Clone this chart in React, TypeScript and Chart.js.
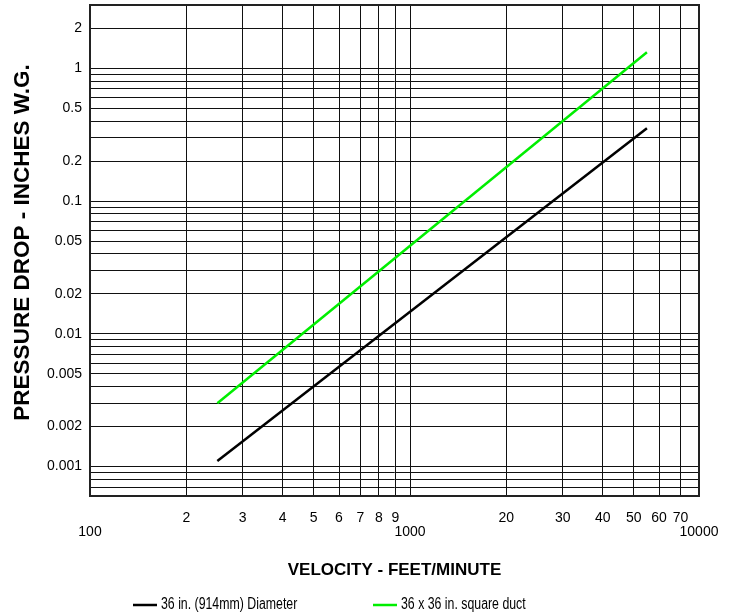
import React, { useEffect, useRef } from 'react';
import { Chart, registerables } from 'chart.js';

Chart.register(...registerables);

// ---- data ----
const ROUND_LABEL = '36 in. (914mm) Diameter';
const SQUARE_LABEL = '36 x 36 in. square duct';

const ROUND_VELOCITY = [250, 5500];
const ROUND_PRESSURE = [0.0011, 0.354];

const SQUARE_VELOCITY = [250, 5500];
const SQUARE_PRESSURE = [0.003, 1.32];

const X_MIN = 100;
const X_MAX = 8000;
const Y_MIN = 0.0006;
const Y_MAX = 3;

const X_GRID_VALUES = [100, 200, 300, 400, 500, 600, 700, 800, 900, 1000, 2000, 3000, 4000, 5000, 6000, 7000, 8000];
const X_TICK_LABELS: (string | string[])[] = [
  ['', '100'], '2', '3', '4', '5', '6', '7', '8', '9', ['', '1000'],
  '20', '30', '40', '50', '60', '70', ['', '10000'],
];

const Y_GRID_VALUES = [
  0.0006, 0.0007, 0.0008, 0.0009,
  0.001, 0.002, 0.003, 0.004, 0.005, 0.006, 0.007, 0.008, 0.009,
  0.01, 0.02, 0.03, 0.04, 0.05, 0.06, 0.07, 0.08, 0.09,
  0.1, 0.2, 0.3, 0.4, 0.5, 0.6, 0.7, 0.8, 0.9,
  1, 2, 3,
];
const Y_LABEL_VALUES = [0.001, 0.002, 0.005, 0.01, 0.02, 0.05, 0.1, 0.2, 0.5, 1, 2];
const Y_LABEL_TEXTS = ['0.001', '0.002', '0.005', '0.01', '0.02', '0.05', '0.1', '0.2', '0.5', '1', '2'];

const X_TITLE = 'VELOCITY - FEET/MINUTE';
const Y_TITLE = 'PRESSURE DROP - INCHES W.G.';

const BLACK = '#000000';
const GREEN = '#00ee00';
const GRID = '#111111';

const FONT = "'Liberation Sans', Arial, Helvetica, sans-serif";

const framePlugin = {
  id: 'frame',
  afterDraw(chart: any) {
    const { ctx, chartArea } = chart;
    ctx.save();
    ctx.strokeStyle = '#222222';
    ctx.lineWidth = 2;
    ctx.strokeRect(chartArea.left, chartArea.top, chartArea.right - chartArea.left, chartArea.bottom - chartArea.top);
    ctx.restore();
  },
};

// vertical axis title, placed slightly above the plot centre as in the reference
const yTitlePlugin = {
  id: 'yTitle',
  afterDraw(chart: any, _args: any, opts: any) {
    const { ctx, chartArea } = chart;
    ctx.save();
    ctx.font = opts.font;
    ctx.fillStyle = '#000';
    ctx.textAlign = 'center';
    ctx.textBaseline = 'middle';
    ctx.translate(opts.x, (chartArea.top + chartArea.bottom) / 2 + opts.dy);
    ctx.rotate(-Math.PI / 2);
    ctx.fillText(opts.text, 0, 0);
    ctx.restore();
  },
};

const bottomLegendPlugin = {
  id: 'bottomLegend',
  afterDraw(chart: any, _args: any, opts: any) {
    const { ctx } = chart;
    const xs: number[] = opts.x || [];
    const y: number = opts.y;
    ctx.save();
    ctx.font = opts.font;
    ctx.textBaseline = 'middle';
    ctx.textAlign = 'left';
    chart.data.datasets.forEach((ds: any, i: number) => {
      const x0 = xs[i];
      ctx.strokeStyle = ds.borderColor;
      ctx.lineWidth = 2.5;
      ctx.beginPath();
      ctx.moveTo(x0, y);
      ctx.lineTo(x0 + opts.sample, y);
      ctx.stroke();
      ctx.save();
      ctx.translate(x0 + opts.sample + 4, y);
      ctx.scale(opts.condense, 1);
      ctx.fillStyle = '#000';
      ctx.fillText(ds.label, 0, 0);
      ctx.restore();
    });
    ctx.restore();
  },
};

function toPoints(xs: number[], ys: number[]) {
  return xs.map((x, i) => ({ x, y: ys[i] }));
}

export default function App() {
  const canvasRef = useRef<HTMLCanvasElement | null>(null);

  useEffect(() => {
    document.body.style.margin = '0';
    const canvas = canvasRef.current;
    if (!canvas) return;
    Chart.defaults.font.family = FONT;
    Chart.defaults.font.size = 14;
    Chart.defaults.color = '#000';

    const chart = new Chart(canvas, {
      type: 'scatter',
      data: {
        datasets: [
          {
            label: ROUND_LABEL,
            data: toPoints(ROUND_VELOCITY, ROUND_PRESSURE),
            showLine: true,
            borderColor: BLACK,
            backgroundColor: BLACK,
            borderWidth: 2.5,
            pointRadius: 0,
            pointHoverRadius: 0,
          },
          {
            label: SQUARE_LABEL,
            data: toPoints(SQUARE_VELOCITY, SQUARE_PRESSURE),
            showLine: true,
            borderColor: GREEN,
            backgroundColor: GREEN,
            borderWidth: 2.5,
            pointRadius: 0,
            pointHoverRadius: 0,
          },
        ],
      },
      options: {
        responsive: false,
        animation: false,
        events: [],
        layout: { padding: { top: 5, right: 34, left: 0, bottom: 0 } },
        plugins: {
          legend: { display: false },
          tooltip: { enabled: false },
          yTitle: {
            text: Y_TITLE,
            x: 23,
            dy: -8,
            font: "bold 22.5px 'Liberation Sans', Arial, sans-serif",
          },
          bottomLegend: {
            x: [133, 373],
            y: 605,
            sample: 24,
            condense: 0.78,
            font: "15.8px 'Liberation Sans', Arial, sans-serif",
          },
        } as any,
        scales: {
          x: {
            type: 'logarithmic',
            min: X_MIN,
            max: X_MAX,
            afterBuildTicks: (scale: any) => {
              scale.ticks = X_GRID_VALUES.map((v) => ({ value: v }));
            },
            afterFit: (scale: any) => {
              scale.height = 119;
              scale.paddingLeft = 0;
              scale.paddingRight = 0;
            },
            ticks: {
              autoSkip: false,
              maxRotation: 0,
              minRotation: 0,
              padding: 15,
              font: { size: 14, lineHeight: 1 },
              color: '#000',
              callback: (_v: any, index: number) => X_TICK_LABELS[index] ?? '',
            },
            grid: { color: GRID, lineWidth: 1, drawTicks: false },
            border: { display: false },
            title: {
              display: true,
              text: X_TITLE,
              color: '#000',
              font: { size: 17, weight: 'bold' },
              padding: { top: 0, bottom: 34 },
            },
          },
          y: {
            type: 'logarithmic',
            min: Y_MIN,
            max: Y_MAX,
            afterBuildTicks: (scale: any) => {
              scale.ticks = Y_GRID_VALUES.map((v) => ({ value: v }));
            },
            afterFit: (scale: any) => {
              scale.width = 90;
              scale.paddingTop = 0;
              scale.paddingBottom = 0;
            },
            ticks: {
              autoSkip: false,
              padding: 8,
              font: { size: 14 },
              color: '#000',
              callback: (v: any) => {
                const val = Number(v);
                const idx = Y_LABEL_VALUES.findIndex((l) => Math.abs(l - val) / l < 1e-6);
                return idx >= 0 ? Y_LABEL_TEXTS[idx] : '';
              },
            },
            grid: { color: GRID, lineWidth: 1, drawTicks: false },
            border: { display: false },
            title: { display: false },
          },
        },
      } as any,
      plugins: [framePlugin, yTitlePlugin, bottomLegendPlugin],
    });

    return () => {
      chart.destroy();
    };
  }, []);

  return (
    <div style={{ width: 733, height: 615 }}>
      <canvas ref={canvasRef} width={733} height={615} style={{ display: 'block' }} />
    </div>
  );
}
